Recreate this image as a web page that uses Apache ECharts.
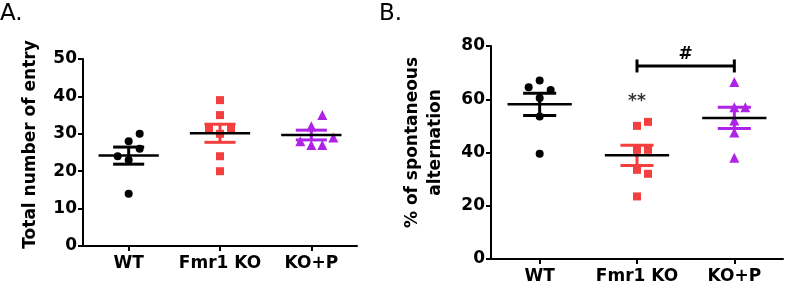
<!DOCTYPE html>
<html>
<head>
<meta charset="utf-8">
<script src="https://cdn.jsdelivr.net/npm/echarts@6/dist/echarts.min.js"></script>
<style>
  html, body { margin: 0; padding: 0; background: #fff; }
  #container { width: 787px; height: 297px; }
</style>
</head>
<body>
<div id="container"></div>
<script>
// groups on both panels
var categories = ['WT', 'Fmr1 KO', 'KO+P'];

// A. total number of arm entries
var entryWT = [28, 30, 23, 26, 24, 14];
var entryKO = [39, 35, 30, 24, 20, 31.5, 31.5];
var entryKOP = [32, 27, 27, 28, 35, 29];
var entryMax = 50, entryStep = 10;

// B. % of spontaneous alternation
var altWT = [67, 63.5, 64.5, 60.5, 53.5, 39.5];
var altKO = [50, 51.5, 41, 41, 33.5, 32, 23.5];
var altKOP = [66.5, 57, 57, 52, 47.5, 38];
var altMax = 80, altStep = 20;

// significance marks on B
var starText = '**', starValue = 59;
var hashText = '#', hashValue = 72.5;

var dom = document.getElementById('container');
var myChart = echarts.init(dom, null, { renderer: 'canvas' });

var font = 'DejaVu Sans';
var colors = ['#000000', '#F43F3F', '#AE24E6'];
var symbols = ['circle', 'rect', 'triangle'];
var sizes = [8, 8, 10];

function meanSem(a) {
    var n = a.length;
    var m = a.reduce(function (s, v) { return s + v; }, 0) / n;
    var ss = a.reduce(function (s, v) { return s + (v - m) * (v - m); }, 0);
    return [m, Math.sqrt(ss / (n - 1)) / Math.sqrt(n)];
}

// simple beeswarm: push points sideways when they would overlap
function jitter(values, th, step) {
    var placed = [];
    return values.map(function (v) {
        var slots = [0, 1, -1, 2, -2, 3, -3];
        for (var k = 0; k < slots.length; k++) {
            var s = slots[k];
            var hit = placed.some(function (p) { return p.s === s && Math.abs(p.v - v) < th; });
            if (!hit) { placed.push({ v: v, s: s }); return s * step; }
        }
        return 0;
    });
}

function dots(gi, values, g, th) {
    var offs = jitter(values, th, 11);
    return {
        type: 'scatter', xAxisIndex: g, yAxisIndex: g, z: 2,
        symbol: symbols[gi], symbolSize: sizes[gi],
        itemStyle: { color: colors[gi], opacity: 1 },
        data: values.map(function (v, i) { return { value: [gi, v], symbolOffset: [offs[i], 0] }; })
    };
}

function meanBars(groups, g) {
    return {
        type: 'custom', xAxisIndex: g, yAxisIndex: g, z: 3,
        data: groups.map(function (vals, gi) { var r = meanSem(vals); return [gi, r[0], r[1]]; }),
        renderItem: function (params, api) {
            var gi = api.value(0), m = api.value(1), s = api.value(2);
            var c = api.coord([gi, m]);
            var t = api.coord([gi, m + s]);
            var b = api.coord([gi, m - s]);
            var bw = api.size([1, 0])[0];
            var capW = bw * 0.34, meanW = bw * 0.66;
            var col = colors[gi];
            return {
                type: 'group',
                children: [
                    { type: 'line', shape: { x1: c[0], y1: t[1], x2: c[0], y2: b[1] }, style: { stroke: col, lineWidth: 3 } },
                    { type: 'line', shape: { x1: c[0] - capW / 2, y1: t[1], x2: c[0] + capW / 2, y2: t[1] }, style: { stroke: col, lineWidth: 3 } },
                    { type: 'line', shape: { x1: c[0] - capW / 2, y1: b[1], x2: c[0] + capW / 2, y2: b[1] }, style: { stroke: col, lineWidth: 3 } },
                    { type: 'line', shape: { x1: c[0] - meanW / 2, y1: c[1], x2: c[0] + meanW / 2, y2: c[1] }, style: { stroke: '#000', lineWidth: 2.5 } }
                ]
            };
        }
    };
}

var axisText = { color: '#000', fontSize: 17, fontWeight: 'bold', fontFamily: font };
var blackLine = { show: true, lineStyle: { color: '#000', width: 2 } };
var blackTick = { show: true, length: 5, lineStyle: { color: '#000', width: 2 } };

function xAxis(g) {
    return {
        type: 'category', gridIndex: g, data: categories,
        axisLine: blackLine, axisTick: { show: true, alignWithLabel: true, length: 5, lineStyle: { color: '#000', width: 2 } },
        axisLabel: Object.assign({ margin: 9, interval: 0 }, axisText),
        splitLine: { show: false }
    };
}

var option = {
    animation: false,
    backgroundColor: '#fff',
    title: [
        { text: 'A.', left: 0, top: 3, padding: 0, textStyle: { fontSize: 23, fontWeight: 'normal', color: '#000', fontFamily: font } },
        { text: 'B.', left: 379, top: 3, padding: 0, textStyle: { fontSize: 23, fontWeight: 'normal', color: '#000', fontFamily: font } }
    ],
    grid: [
        { left: 83, top: 59, width: 274, height: 187 },
        { left: 491, top: 46, width: 292, height: 213 }
    ],
    xAxis: [xAxis(0), xAxis(1)],
    yAxis: [
        {
            type: 'value', gridIndex: 0, min: 0, max: entryMax, interval: entryStep,
            name: 'Total number of entry', nameLocation: 'middle', nameGap: 44,
            nameTextStyle: Object.assign({ padding: [0, 0, 0, 16] }, axisText),
            axisLine: blackLine, axisTick: blackTick,
            axisLabel: Object.assign({ margin: 6 }, axisText),
            splitLine: { show: false }
        },
        {
            type: 'value', gridIndex: 1, min: 0, max: altMax, interval: altStep,
            name: '% of spontaneous\nalternation', nameLocation: 'middle', nameGap: 44,
            nameTextStyle: Object.assign({ lineHeight: 23, padding: [0, 0, 0, 20] }, axisText),
            axisLine: blackLine, axisTick: blackTick,
            axisLabel: Object.assign({ margin: 6 }, axisText),
            splitLine: { show: false }
        }
    ],
    series: [
        dots(0, entryWT, 0, 3.2),
        dots(1, entryKO, 0, 3.2),
        dots(2, entryKOP, 0, 3.2),
        meanBars([entryWT, entryKO, entryKOP], 0),
        dots(0, altWT, 1, 4.5),
        dots(1, altKO, 1, 4.5),
        dots(2, altKOP, 1, 4.5),
        meanBars([altWT, altKO, altKOP], 1),
        {
            type: 'scatter', xAxisIndex: 1, yAxisIndex: 1, symbolSize: 1,
            itemStyle: { color: 'rgba(0,0,0,0)' },
            label: Object.assign({ show: true, position: 'inside', formatter: starText }, axisText),
            data: [[1, starValue]]
        },
        {
            type: 'line', xAxisIndex: 1, yAxisIndex: 1, z: 4,
            symbol: 'rect', symbolSize: [3, 13], showSymbol: true,
            itemStyle: { color: '#000' },
            lineStyle: { color: '#000', width: 3 },
            data: [[1, hashValue], [2, hashValue]],
            markLine: {
                silent: true, symbol: 'none',
                lineStyle: { color: 'rgba(0,0,0,0)', width: 1 },
                label: Object.assign({ show: true, position: 'middle', formatter: hashText, distance: 3 }, axisText),
                data: [[{ coord: [1, hashValue] }, { coord: [2, hashValue] }]]
            }
        }
    ]
};

myChart.setOption(option);
window.addEventListener('resize', myChart.resize);
</script>
</body>
</html>
